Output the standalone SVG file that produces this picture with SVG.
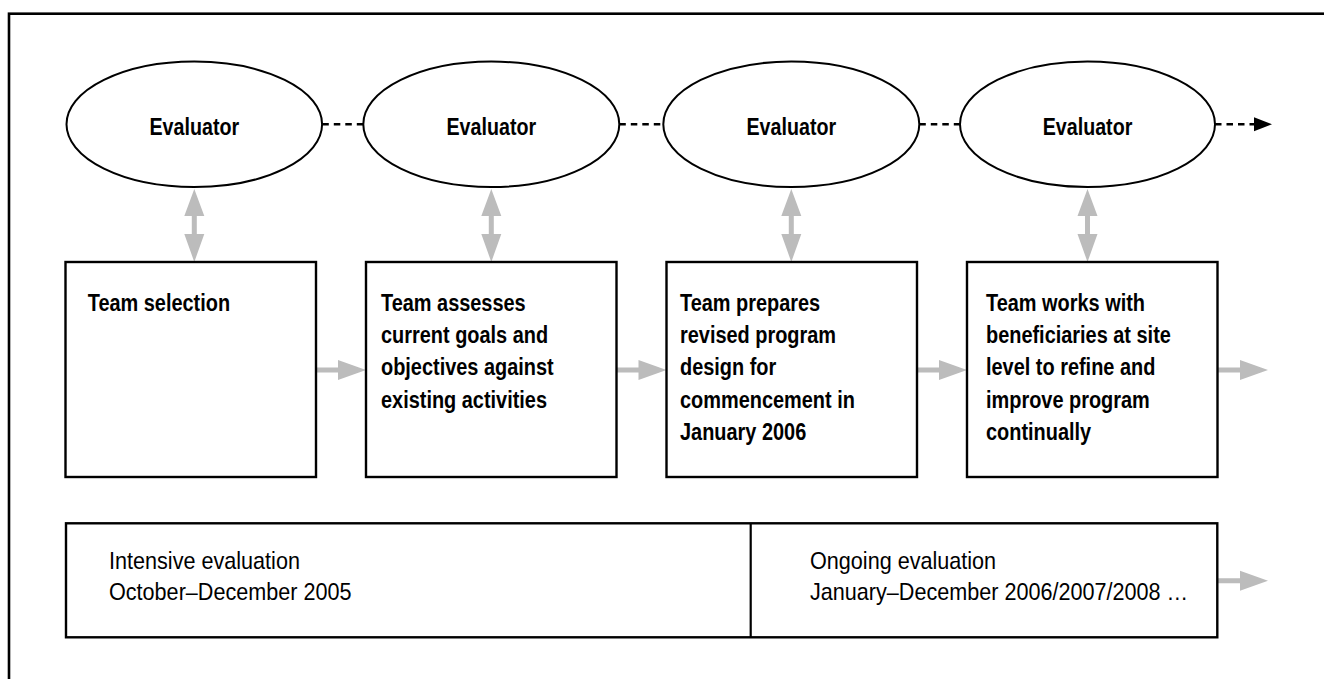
<svg xmlns="http://www.w3.org/2000/svg" width="1324" height="679" viewBox="0 0 1324 679">
  <style>
    .frame { fill: none; stroke: #000; stroke-width: 2.6; }
    .ell { fill: #fff; stroke: #000; stroke-width: 2; }
    .box { fill: #fff; stroke: #000; stroke-width: 2.4; }
    .dash { stroke: #000; stroke-width: 2.5; stroke-dasharray: 6.5 5; fill: none; }
    .gray { fill: #bcbcbc; }
    .bt { font-family: "Liberation Sans", Arial, sans-serif; font-weight: bold; font-size: 24px; fill: #000; }
    .rt { font-family: "Liberation Sans", Arial, sans-serif; font-weight: normal; font-size: 24px; fill: #000; }
  </style>
  <defs>
    <path id="vArrow" class="gray" d="M0,0 L10,27 L2.5,27 L2.5,45 L10,45 L0,73 L-10,45 L-2.5,45 L-2.5,27 L-10,27 Z"/>
    <path id="hArrow" class="gray" d="M0,-2.5 H22 V-10 L50,0 L22,10 V2.5 H0 Z"/>
  </defs>
  <rect width="1324" height="679" fill="#fff"/>
  <rect class="frame" x="9" y="13.7" width="1330" height="700"/>

  <g id="connectors">
    <line class="dash" x1="322.3" y1="124.3" x2="363.3" y2="124.3"/>
    <line class="dash" x1="619.3" y1="124.3" x2="663.3" y2="124.3"/>
    <line class="dash" x1="919.3" y1="124.3" x2="960" y2="124.3"/>
    <line class="dash" x1="1215" y1="124.3" x2="1255" y2="124.3"/>
    <polygon points="1254,117.3 1272,124.3 1254,131.3" fill="#000"/>
    <use href="#vArrow" x="194.3" y="189"/>
    <use href="#vArrow" x="491.3" y="189"/>
    <use href="#vArrow" x="791.3" y="189"/>
    <use href="#vArrow" x="1087.5" y="189"/>
    <use href="#hArrow" x="316" y="370"/>
    <use href="#hArrow" x="616.5" y="370"/>
    <use href="#hArrow" x="917" y="370"/>
    <use href="#hArrow" x="1218" y="370"/>
    <use href="#hArrow" x="1218" y="580.7"/>
  </g>

  <g id="evaluator1">
    <ellipse class="ell" cx="194.3" cy="124.3" rx="127.8" ry="62.7"/>
    <text class="bt" text-anchor="middle" transform="translate(194.3,135) scale(0.82,1)">Evaluator</text>
  </g>
  <g id="evaluator2">
    <ellipse class="ell" cx="491.3" cy="124.3" rx="128" ry="62.7"/>
    <text class="bt" text-anchor="middle" transform="translate(491.3,135) scale(0.82,1)">Evaluator</text>
  </g>
  <g id="evaluator3">
    <ellipse class="ell" cx="791.3" cy="124.3" rx="128" ry="62.7"/>
    <text class="bt" text-anchor="middle" transform="translate(791.3,135) scale(0.82,1)">Evaluator</text>
  </g>
  <g id="evaluator4">
    <ellipse class="ell" cx="1087.5" cy="124.3" rx="127.5" ry="62.7"/>
    <text class="bt" text-anchor="middle" transform="translate(1087.5,135) scale(0.82,1)">Evaluator</text>
  </g>

  <g id="step1">
    <rect class="box" x="65.5" y="262" width="250.5" height="215"/>
    <text class="bt" transform="translate(87.7,310.7) scale(0.83,1)">Team selection</text>
  </g>
  <g id="step2">
    <rect class="box" x="366" y="262" width="250.5" height="215"/>
    <text class="bt" transform="translate(381,310.7) scale(0.83,1)">
      <tspan x="0" y="0">Team assesses</tspan>
      <tspan x="0" y="32.3">current goals and</tspan>
      <tspan x="0" y="64.6">objectives against</tspan>
      <tspan x="0" y="96.9">existing activities</tspan>
    </text>
  </g>
  <g id="step3">
    <rect class="box" x="666.5" y="262" width="250.5" height="215"/>
    <text class="bt" transform="translate(680,310.7) scale(0.83,1)">
      <tspan x="0" y="0">Team prepares</tspan>
      <tspan x="0" y="32.3">revised program</tspan>
      <tspan x="0" y="64.6">design for</tspan>
      <tspan x="0" y="96.9">commencement in</tspan>
      <tspan x="0" y="129.2">January 2006</tspan>
    </text>
  </g>
  <g id="step4">
    <rect class="box" x="967" y="262" width="250.5" height="215"/>
    <text class="bt" transform="translate(986,310.7) scale(0.83,1)">
      <tspan x="0" y="0">Team works with</tspan>
      <tspan x="0" y="32.3">beneficiaries at site</tspan>
      <tspan x="0" y="64.6">level to refine and</tspan>
      <tspan x="0" y="96.9">improve program</tspan>
      <tspan x="0" y="129.2">continually</tspan>
    </text>
  </g>

  <g id="timeline">
    <rect class="box" x="66" y="523.3" width="1151.3" height="114"/>
    <line x1="750.7" y1="523.3" x2="750.7" y2="637.3" stroke="#000" stroke-width="2.2"/>
  </g>
  <g id="intensive">
    <text class="rt" transform="translate(109,569.3) scale(0.9,1)">
      <tspan x="0" y="0">Intensive evaluation</tspan>
      <tspan x="0" y="31">October–December 2005</tspan>
    </text>
  </g>
  <g id="ongoing">
    <text class="rt" transform="translate(810,569.3) scale(0.9,1)">
      <tspan x="0" y="0">Ongoing evaluation</tspan>
      <tspan x="0" y="31">January–December 2006/2007/2008 …</tspan>
    </text>
  </g>
</svg>
